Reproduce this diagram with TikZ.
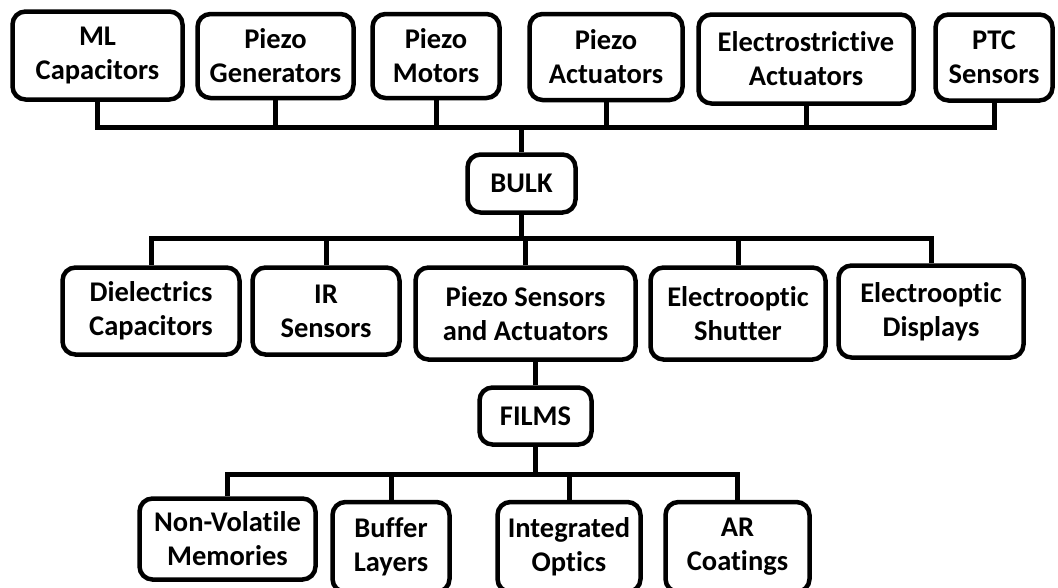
\documentclass[tikz,border=0pt]{standalone}
\usepackage{fontspec}
\setmainfont{Carlito}[Ligatures={NoCommon}]
\begin{document}
\begin{tikzpicture}[x=1pt,y=-1pt,
    font=\fontsize{28.5}{34}\selectfont\bfseries,
    box/.style={draw, line width=4.5pt, rounded corners=13pt, align=center, inner sep=0pt},
    wire/.style={line width=5pt}]
    \useasboundingbox (0,0) rectangle (1058,587);
    \clip (0,0) rectangle (1058,587);
    % bulk applications
    \node[box, minimum width=170pt, minimum height=88pt] (mlcap) at (97.5,55.5) {ML\\Capacitors};
    \node[box, minimum width=156pt, minimum height=84pt] (pzgen) at (275.5,56) {Piezo\\Generators};
    \node[box, minimum width=127pt, minimum height=84pt] (pzmot) at (436,56) {Piezo\\Motors};
    \node[box, minimum width=153pt, minimum height=86pt] (pzact) at (606,57) {Piezo\\Actuators};
    \node[box, minimum width=215pt, minimum height=89pt] (elact) at (806,59) {Electrostrictive\\Actuators};
    \node[box, minimum width=117pt, minimum height=86pt] (ptc) at (994,57.5) {PTC\\Sensors};
    \node[box, minimum width=108pt, minimum height=58pt] (bulk) at (521.5,183.5) {BULK};
    % film applications
    \node[box, minimum width=177pt, minimum height=87pt] (dielcap) at (151,311) {Dielectrics\\Capacitors};
    \node[box, minimum width=147pt, minimum height=87pt] (irsens) at (326,311) {IR\\Sensors};
    \node[box, minimum width=220pt, minimum height=92pt] (pzsa) at (525.5,313.5) {Piezo Sensors\\and Actuators};
    \node[box, minimum width=175pt, minimum height=92pt] (eoshut) at (738,313.5) {Electrooptic\\Shutter};
    \node[box, minimum width=185pt, minimum height=92pt] (eodisp) at (931,311.5) {Electrooptic\\Displays};
    \node[box, minimum width=112pt, minimum height=57pt] (films) at (535.5,416) {FILMS};
    \node[box, minimum width=176pt, minimum height=81pt] (nvmem) at (227.5,539) {Non-Volatile\\Memories};
    \node[box, minimum width=117pt, minimum height=90pt] (buffer) at (391,547) {Buffer\\Layers};
    \node[box, minimum width=143pt, minimum height=90pt] (intopt) at (569,547) {Integrated\\Optics};
    \node[box, minimum width=144pt, minimum height=90pt] (arcoat) at (737.5,547) {AR\\Coatings};
    % bus lines
    \coordinate (topbar) at (0,127.5);
    \coordinate (midbar) at (0,238);
    \coordinate (lowbar) at (0,474.5);
    \draw[wire] (mlcap.south) -- (mlcap.south |- topbar) -- (ptc.south |- topbar) -- (ptc.south);
    \draw[wire] (pzgen.south) -- (pzgen.south |- topbar);
    \draw[wire] (pzmot.south) -- (pzmot.south |- topbar);
    \draw[wire] (pzact.south) -- (pzact.south |- topbar);
    \draw[wire] (elact.south) -- (elact.south |- topbar);
    \draw[wire] (bulk.north) -- (bulk.north |- topbar);
    \draw[wire] (dielcap.north) -- (dielcap.north |- midbar) -- (eodisp.north |- midbar) -- (eodisp.north);
    \draw[wire] (irsens.north) -- (irsens.north |- midbar);
    \draw[wire] (pzsa.north) -- (pzsa.north |- midbar);
    \draw[wire] (eoshut.north) -- (eoshut.north |- midbar);
    \draw[wire] (bulk.south) -- (bulk.south |- midbar);
    \draw[wire] (films.north) -- (films.north |- pzsa.south);
    \draw[wire] (nvmem.north) -- (nvmem.north |- lowbar) -- (arcoat.north |- lowbar) -- (arcoat.north);
    \draw[wire] (buffer.north) -- (buffer.north |- lowbar);
    \draw[wire] (intopt.north) -- (intopt.north |- lowbar);
    \draw[wire] (films.south) -- (films.south |- lowbar);
\end{tikzpicture}
\end{document}
